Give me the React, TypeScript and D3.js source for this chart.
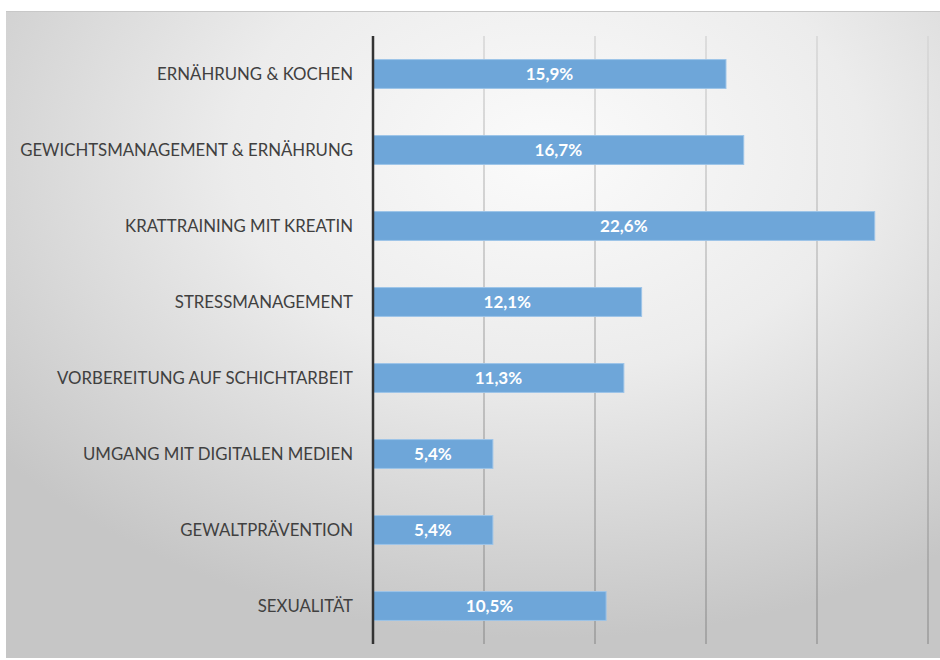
import React from "react";
import * as d3 from "d3";

const categories = [
  "ERNÄHRUNG & KOCHEN",
  "GEWICHTSMANAGEMENT & ERNÄHRUNG",
  "KRATTRAINING MIT KREATIN",
  "STRESSMANAGEMENT",
  "VORBEREITUNG AUF SCHICHTARBEIT",
  "UMGANG MIT DIGITALEN MEDIEN",
  "GEWALTPRÄVENTION",
  "SEXUALITÄT",
];
const values = [15.9, 16.7, 22.6, 12.1, 11.3, 5.4, 5.4, 10.5];
const gridTicks = [5, 10, 15, 20, 25];

const W = 940;
const H = 660;
const x0 = 373;
const plotTop = 36;
const plotBottom = 644;

export default function App() {
  const x = d3.scaleLinear().domain([0, 25]).range([x0, 928]);
  const y = d3.scaleBand<string>().domain(categories).range([plotTop, plotBottom]).paddingInner(0.62).paddingOuter(0.31);
  const fmt = (v: number) => v.toFixed(1).replace(".", ",") + "%";
  const font = "Lato, 'Open Sans', sans-serif";
  return (
    <>
      <style>{"body{margin:0}"}</style>
      <svg width={W} height={H} style={{ display: "block" }}>
        <defs>
          <radialGradient id="bg" cx="0.58" cy="0.22" r="0.75" gradientUnits="objectBoundingBox">
            <stop offset="0" stopColor="#fbfbfb" />
            <stop offset="0.45" stopColor="#ececec" />
            <stop offset="1" stopColor="#c6c6c6" />
          </radialGradient>
          <linearGradient id="grid" x1="0" y1={plotTop} x2="0" y2={plotBottom} gradientUnits="userSpaceOnUse">
            <stop offset="0" stopColor="#d6d6d6" />
            <stop offset="1" stopColor="#9a9a9a" />
          </linearGradient>
        </defs>
        <rect x={0} y={0} width={W} height={H} fill="#ffffff" />
        <rect x={6} y={11} width={W - 6} height={647} fill="url(#bg)" />
        <line x1={6} x2={W} y1={11.5} y2={11.5} stroke="#c8c8c8" strokeWidth={1} />
        {gridTicks.map((t) => (
          <line key={t} x1={x(t)} x2={x(t)} y1={plotTop} y2={plotBottom} stroke="url(#grid)" strokeWidth={1.5} />
        ))}
        {categories.map((c, i) => {
          const yy = y(c)!;
          const bh = y.bandwidth();
          return (
            <g key={c}>
              <rect x={x(0)} y={yy} width={x(values[i]) - x(0)} height={bh} fill="#6ea6d9" stroke="#9dc4e8" strokeWidth={1} />
              <text x={(x(0) + x(values[i])) / 2} y={yy + bh / 2} dy="0.36em" textAnchor="middle" fill="#ffffff" fontWeight="bold" fontSize={17} fontFamily={font}>
                {fmt(values[i])}
              </text>
              <text x={353} y={yy + bh / 2} dy="0.36em" textAnchor="end" fill="#404040" fontSize={16.8} fontFamily={font}>
                {c}
              </text>
            </g>
          );
        })}
        <line x1={x0} x2={x0} y1={plotTop} y2={plotBottom} stroke="#333333" strokeWidth={2.5} />
      </svg>
    </>
  );
}
